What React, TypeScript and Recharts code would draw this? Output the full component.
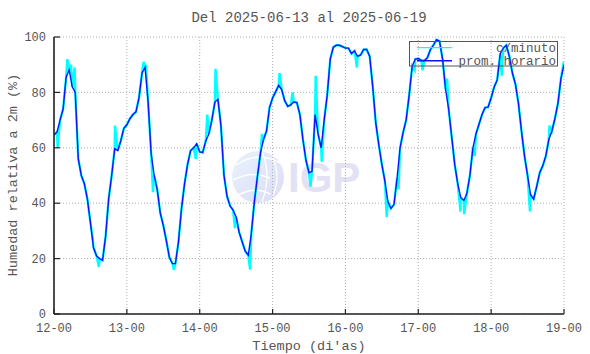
import React from 'react';
import { LineChart, Line, XAxis, YAxis, CartesianGrid, Legend, Label } from 'recharts';

// Hourly mean relative humidity (%), one value per hour from 2025-06-12 00:00 to 2025-06-19 00:00
const hourlyHumidity = [
  64.6, 65.7, 70, 74, 85.5, 88.2, 82, 80, 56, 50, 47, 41.5, 33, 24, 21, 20, 19.4, 28, 41.5, 50, 59.7, 59, 62.5, 67,
  68.3, 70.5, 72, 73, 78, 87, 89, 76.5, 58, 50, 45, 36.5, 32, 26.5, 20.5, 18.2, 18.2, 26, 38, 47, 54, 59, 60, 61.5,
  58.5, 58.3, 62.5, 65, 70, 76.5, 77.5, 68, 50, 42.5, 39, 37.5, 35, 29.5, 26, 22.7, 21.2, 29, 40.5, 49.5, 58, 63, 66, 74.5,
  78, 80.2, 82.5, 81, 77, 75, 75.5, 76.5, 76.3, 72, 63, 55.5, 51, 51.5, 72, 65, 60, 70, 79, 92, 96.3, 97, 97, 96.5,
  96, 96, 94, 95, 93, 93.5, 95.5, 95.5, 93, 82, 69, 61, 54, 48, 40.5, 38.1, 39.5, 49, 60, 65.5, 70, 79, 89.5, 92,
  92.2, 91.5, 91.5, 92.5, 95.5, 97.1, 99, 98.5, 92, 81, 74, 64, 54, 47, 42, 41, 43.5, 50, 60, 65, 68.5, 72, 74.5, 74.7,
  78, 82, 84.5, 94, 96, 97, 93, 87, 83, 76, 66, 57, 50, 43, 41.5, 46, 51, 53.5, 57, 63, 66, 70.5, 76, 85,
  90,
];

// Per-minute excursions away from the hourly mean: [hour, value]
const minuteSpikes: [number, number][] = [
  [1.2, 60], [4.4, 92], [5.6, 90], [6.8, 89], [12.8, 27], [14.8, 17], [20.1, 68], [29.5, 91], [30.3, 90],
  [32.6, 44], [39.5, 16], [46.7, 56], [50.5, 72], [53.2, 88.5], [54.8, 70], [59.6, 31], [64.6, 16], [68.5, 65],
  [74.3, 87], [78.6, 80], [84.5, 46], [86.2, 86], [88.2, 55], [99.8, 89], [109.6, 35], [113.5, 45], [118.8, 88],
  [121.4, 88], [129.5, 85], [133.9, 37], [135.1, 36], [138.6, 57], [147.5, 86], [156.8, 37], [163.2, 68], [167.9, 91],
];

const dayTicks = [0, 24, 48, 72, 96, 120, 144, 168];
const dayLabels = ['12-00', '13-00', '14-00', '15-00', '16-00', '17-00', '18-00', '19-00'];
const humidityTicks = [0, 20, 40, 60, 80, 100];

const titleText = 'Del 2025-06-13 al 2025-06-19';
const xLabelText = "Tiempo (di'as)";
const yLabelText = 'Humedad relativa a 2m (%)';
const seriesNames = ['c/minuto', 'prom. horario'];

const hourlyData = hourlyHumidity.map((v, i) => ({ t: i, v }));
const minuteData = [
  ...hourlyHumidity.map((v, i) => ({ t: i, v })),
  ...minuteSpikes.map(([t, v]) => ({ t, v })),
].sort((a, b) => a.t - b.t);

const FONT = '"Liberation Mono", "DejaVu Sans Mono", monospace';
const TXT = '#555';

const renderLegend = (props: any) => {
  const payload = props.payload || [];
  return (
    <svg width={150} height={27} style={{ display: 'block', overflow: 'visible' }}>
      <rect x={0.5} y={0.5} width={148} height={24.5} fill="none" stroke="#555" strokeWidth={1} />
      {payload.map((p: any, i: number) => (
        <g key={i}>
          <line x1={8} x2={43} y1={6.7 + 13 * i} y2={6.7 + 13 * i} stroke={p.color} strokeWidth={i === 0 ? 1.2 : 1.5} />
          <text x={147} y={11 + 12.5 * i} textAnchor="end" fontFamily={FONT} fontSize={12.5} fill={TXT}>
            {p.value}
          </text>
        </g>
      ))}
    </svg>
  );
};

const Watermark = () => (
  <svg width={590} height={354} style={{ position: 'absolute', left: 0, top: 0 }}>
    <defs>
      <linearGradient id="wmg" x1="0" y1="0" x2="1" y2="1">
        <stop offset="0" stopColor="#e8f2fd" />
        <stop offset="1" stopColor="#dcdcf4" />
      </linearGradient>
    </defs>
    <circle cx={258} cy={177} r={26} fill="url(#wmg)" />
    <path d="M236 165 Q258 150 280 163" stroke="#fff" strokeWidth={1.5} fill="none" />
    <path d="M233 180 Q252 170 270 178" stroke="#fff" strokeWidth={1.5} fill="none" />
    <path d="M238 195 Q255 186 270 194" stroke="#fff" strokeWidth={1.5} fill="none" />
    <path d="M262 152 Q272 175 262 202" stroke="#fff" strokeWidth={1.2} fill="none" />
    <path d="M272 156 Q282 177 272 198" stroke="#fff" strokeWidth={1.2} fill="none" />
    <text x={288} y={192} fontFamily='"Liberation Sans", Arial, sans-serif' fontWeight="bold" fontSize={42} fill="#e2e2f4">
      IGP
    </text>
  </svg>
);

export default function App() {
  return (
    <div style={{ position: 'absolute', left: 0, top: 0, width: 590, height: 354, background: '#fff' }}>
      <Watermark />
      <div style={{ position: 'absolute', left: 0, top: 0 }}>
        <LineChart width={590} height={354} margin={{ top: 37, right: 26, bottom: 10, left: 14 }}>
          <CartesianGrid stroke="#b0b0b0" strokeDasharray="1 2" strokeWidth={1} />
          <XAxis
            type="number"
            dataKey="t"
            domain={[0, 168]}
            ticks={dayTicks}
            tickFormatter={(v: number) => dayLabels[dayTicks.indexOf(v)]}
            allowDataOverflow
            height={30}
            tickSize={-5}
            tickMargin={14.5}
            axisLine={{ stroke: '#222', strokeWidth: 1.6 }}
            tickLine={{ stroke: '#222', strokeWidth: 1.2 }}
            tick={{ fill: TXT, fontSize: 12, fontFamily: FONT }}
          >
            <Label
              content={() => (
                <text x={309} y={350} textAnchor="middle" fontFamily={FONT} fontSize={13.5} fill={TXT}>
                  {xLabelText}
                </text>
              )}
            />
          </XAxis>
          <XAxis
            xAxisId="top"
            orientation="top"
            type="number"
            dataKey="t"
            domain={[0, 168]}
            ticks={dayTicks}
            height={0}
            tick={false}
            tickSize={-5}
            axisLine={{ stroke: '#222', strokeWidth: 1.6 }}
            tickLine={{ stroke: '#222', strokeWidth: 1.2 }}
          />
          <YAxis
            type="number"
            domain={[0, 100]}
            ticks={humidityTicks}
            width={40}
            tickSize={-6}
            tickMargin={14}
            axisLine={{ stroke: '#222', strokeWidth: 1.6 }}
            tickLine={{ stroke: '#222', strokeWidth: 1.2 }}
            tick={{ fill: TXT, fontSize: 12, fontFamily: FONT }}
          >
            <Label
              content={() => (
                <text
                  x={16.5}
                  y={175}
                  textAnchor="middle"
                  transform="rotate(-90 16.5 175)"
                  fontFamily={FONT}
                  fontSize={13.5}
                  fill={TXT}
                >
                  {yLabelText}
                </text>
              )}
            />
          </YAxis>
          <YAxis
            yAxisId="right"
            orientation="right"
            type="number"
            domain={[0, 100]}
            ticks={humidityTicks}
            width={0}
            tick={false}
            tickSize={-6}
            axisLine={{ stroke: '#222', strokeWidth: 1.6 }}
            tickLine={{ stroke: '#222', strokeWidth: 1.2 }}
          />
          <Legend
            layout="horizontal"
            verticalAlign="middle"
            align="center"
            wrapperStyle={{ position: 'absolute', left: 409, top: 41, width: 150, height: 27, margin: 0, padding: 0 }}
            content={renderLegend}
          />
          <Line
            data={minuteData}
            dataKey="v"
            name={seriesNames[0]}
            type="linear"
            stroke="#00ffff"
            strokeWidth={2.4}
            dot={false}
            activeDot={false}
            isAnimationActive={false}
          />
          <Line
            data={hourlyData}
            dataKey="v"
            name={seriesNames[1]}
            type="linear"
            stroke="#0a14ff"
            strokeWidth={1.4}
            dot={false}
            activeDot={false}
            isAnimationActive={false}
          />
        </LineChart>
      </div>
      <div
        style={{
          position: 'absolute',
          left: 54,
          top: 10,
          width: 510,
          textAlign: 'center',
          fontFamily: FONT,
          fontSize: 14,
          color: TXT,
          lineHeight: '16px',
        }}
      >
        {titleText}
      </div>
    </div>
  );
}
